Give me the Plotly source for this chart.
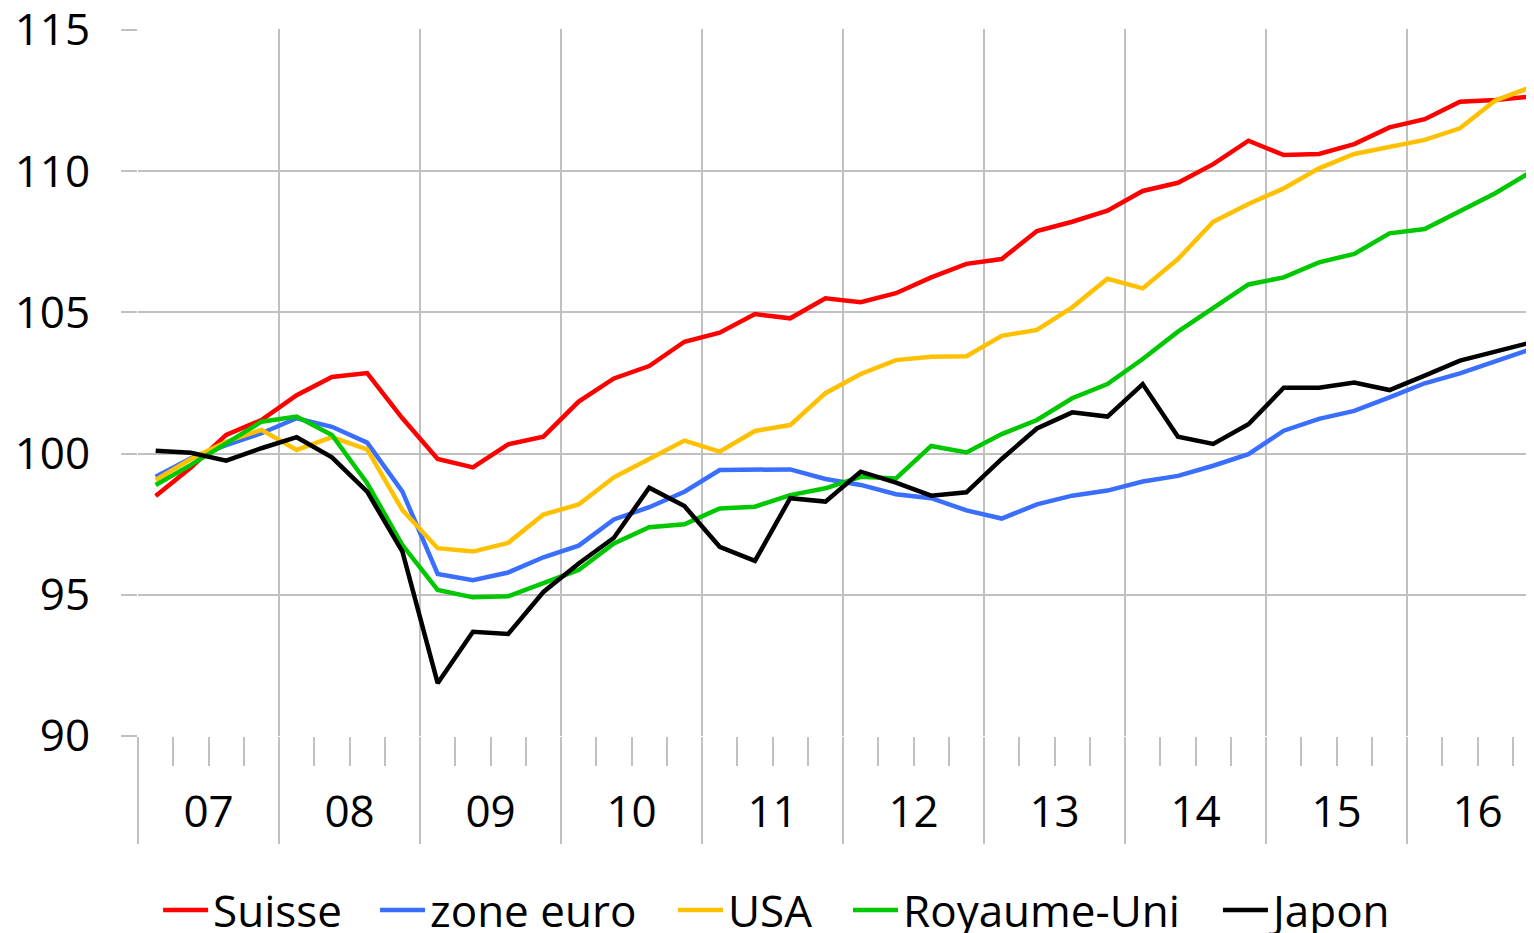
import plotly.graph_objects as go

years = ["07", "08", "09", "10", "11", "12", "13", "14", "15", "16"]
quarters = list(range(40))

suisse = [98.50, 99.51, 100.66, 101.19, 102.07, 102.71, 102.85, 101.25, 99.81, 99.51,
          100.33, 100.60, 101.84, 102.66, 103.10, 103.96, 104.28, 104.94, 104.79, 105.50,
          105.36, 105.68, 106.24, 106.72, 106.89, 107.88, 108.21, 108.60, 109.30, 109.59,
          110.25, 111.08, 110.57, 110.61, 110.96, 111.55, 111.84, 112.46, 112.52, 112.64]
zone_euro = [99.18, 99.83, 100.30, 100.72, 101.25, 100.95, 100.39, 98.65, 95.74, 95.52,
             95.79, 96.33, 96.74, 97.67, 98.10, 98.65, 99.42, 99.42, 99.44, 99.10,
             98.89, 98.56, 98.42, 97.99, 97.70, 98.20, 98.51, 98.69, 99.01, 99.21,
             99.57, 99.98, 100.81, 101.23, 101.51, 101.99, 102.49, 102.84, 103.25, 103.69]
usa = [99.07, 99.81, 100.42, 100.84, 100.13, 100.58, 100.15, 98.00, 96.65, 96.53,
       96.84, 97.84, 98.20, 99.16, 99.81, 100.46, 100.07, 100.80, 101.01, 102.14,
       102.82, 103.31, 103.43, 103.45, 104.17, 104.38, 105.18, 106.19, 105.85, 106.89,
       108.21, 108.84, 109.39, 110.10, 110.61, 110.85, 111.11, 111.52, 112.50, 112.97]
royaume_uni = [98.89, 99.60, 100.36, 101.13, 101.31, 100.66, 98.95, 96.76, 95.17, 94.91,
               94.95, 95.43, 95.88, 96.82, 97.39, 97.50, 98.06, 98.12, 98.53, 98.77,
               99.18, 99.12, 100.27, 100.04, 100.69, 101.19, 101.96, 102.46, 103.35, 104.32,
               105.15, 105.99, 106.24, 106.77, 107.07, 107.80, 107.95, 108.57, 109.22, 109.96]
japon = [100.10, 100.03, 99.75, 100.19, 100.58, 99.87, 98.65, 96.53, 91.87, 93.69,
         93.61, 95.10, 96.11, 97.02, 98.79, 98.14, 96.70, 96.20, 98.42, 98.30,
         99.36, 98.97, 98.51, 98.63, 99.81, 100.89, 101.46, 101.31, 102.46, 100.60,
         100.34, 101.04, 102.33, 102.33, 102.52, 102.25, 102.76, 103.29, 103.61, 103.93]

series = [
    ("Suisse", suisse, "#FF0000"),
    ("zone euro", zone_euro, "#3A6EFF"),
    ("USA", usa, "#FFC000"),
    ("Royaume-Uni", royaume_uni, "#00C800"),
    ("Japon", japon, "#000000"),
]
# left position (paper fraction) of each legend entry
legend_x = [0.0144, 0.1698, 0.3832, 0.5086, 0.7736]

FONT = "Open Sans"
FS = 44
GRID = "#C0C0C0"

fig = go.Figure()
legends = {}
for i, ((name, vals, col), lx) in enumerate(zip(series, legend_x)):
    key = "legend" if i == 0 else f"legend{i+1}"
    fig.add_trace(go.Scatter(x=quarters, y=vals, name=name, mode="lines",
                             line=dict(color=col, width=4.5), legend=key))
    legends[key] = dict(orientation="h", x=lx, xanchor="left", y=-0.2465, yanchor="middle",
                        font=dict(family=FONT, size=FS, color="black"), itemwidth=45,
                        bgcolor="rgba(0,0,0,0)", borderwidth=0)
fig.add_trace(go.Scatter(x=[0], y=[None], xaxis="x2", showlegend=False, hoverinfo="skip"))

year_bounds = [i * 4 - 0.5 for i in range(len(years))]
quarter_bounds = [i - 0.5 for i in range(40) if i % 4 != 0] + [39.5]
year_centers = [i * 4 + 1.5 for i in range(len(years))]
xr = [-0.501, 39.1]

fig.update_layout(
    width=1526, height=925,
    margin=dict(l=130, r=0, t=21, b=197, autoexpand=False),
    plot_bgcolor="white", paper_bgcolor="white",
    font=dict(family=FONT, size=FS, color="black"),
    showlegend=True,
    **legends,
    xaxis=dict(range=xr, tickmode="array", tickvals=year_bounds,
               ticktext=["" for _ in year_bounds],
               showgrid=True, gridcolor=GRID, gridwidth=2,
               ticks="outside", ticklen=107, tickwidth=2, tickcolor=GRID,
               minor=dict(tickmode="array", tickvals=quarter_bounds, ticks="outside",
                          ticklen=29, tickwidth=2, tickcolor=GRID, showgrid=False),
               showline=False, zeroline=False, fixedrange=True),
    xaxis2=dict(range=xr, overlaying="x", anchor="y", side="bottom",
                tickmode="array", tickvals=year_centers, ticktext=years,
                showgrid=False, ticks="", showline=False, zeroline=False,
                ticklabelstandoff=46, tickfont=dict(family=FONT, size=FS, color="black")),
    yaxis=dict(range=[90, 115.035], tickmode="array", tickvals=[90, 95, 100, 105, 110, 115],
               ticktext=["90", "95", "100", "105", "110", "115"],
               showgrid=True, gridcolor=GRID, gridwidth=2,
               ticks="outside", ticklen=16, tickwidth=2, tickcolor=GRID,
               ticklabelstandoff=22, ticklabeloverflow="allow",
               showline=False, zeroline=False,
               tickfont=dict(family=FONT, size=FS, color="black")),
)

fig.write_html("out.html")
